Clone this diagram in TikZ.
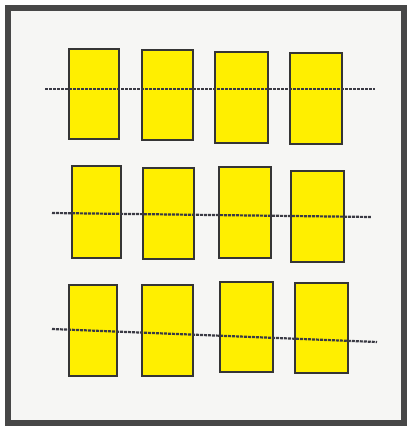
\documentclass[tikz,border=0pt]{standalone}
\begin{document}
\begin{tikzpicture}[x=1pt,y=-1pt,
  cell/.style={draw=cellborder,fill=cellyellow,line width=1.4pt,inner sep=0pt,minimum width=51pt,minimum height=91pt},
  guide/.style={draw=guidegray,line width=2.2pt,dash pattern=on 3pt off 1pt}]
\definecolor{cellyellow}{HTML}{FFEF00}
\definecolor{cellborder}{HTML}{353535}
\definecolor{guidegray}{HTML}{3A3A44}
\definecolor{framegray}{HTML}{474747}
\definecolor{paper}{HTML}{F6F6F4}
\useasboundingbox (0,0) rectangle (407,427);
\fill[white] (0,0) rectangle (407,427);
\draw[framegray,fill=paper,line width=6pt] (8,8) rectangle (403.5,423);
% row 1
\node[cell,minimum width=50pt,minimum height=90pt] (r11) at (94,94) {};
\node[cell,minimum width=51pt,minimum height=90pt] (r12) at (167.5,95) {};
\node[cell,minimum width=53pt] (r13) at (241.5,97.5) {};
\node[cell,minimum width=52pt] (r14) at (316,98.5) {};
% row 2
\node[cell,minimum width=49pt,minimum height=92pt] (r21) at (96.5,212) {};
\node[cell] (r22) at (168.5,213.5) {};
\node[cell,minimum width=52pt] (r23) at (245,212.5) {};
\node[cell,minimum width=53pt] (r24) at (317.5,216.5) {};
% row 3
\node[cell,minimum width=48pt] (r31) at (93,330.5) {};
\node[cell] (r32) at (167.5,330.5) {};
\node[cell,minimum width=53pt,minimum height=90pt] (r33) at (246.5,327) {};
\node[cell,minimum width=53pt,minimum height=90pt] (r34) at (321.5,328) {};
% guide lines
\coordinate (a1) at (45,89);
\coordinate (b1) at (375,89);
\coordinate (a2) at (52,213);
\coordinate (b2) at (371,217);
\coordinate (a3) at (52,329);
\coordinate (b3) at (377,342);
\draw[guide] (a1) -- (b1);
\draw[guide] (a2) -- (b2);
\draw[guide] (a3) -- (b3);
\end{tikzpicture}
\end{document}
